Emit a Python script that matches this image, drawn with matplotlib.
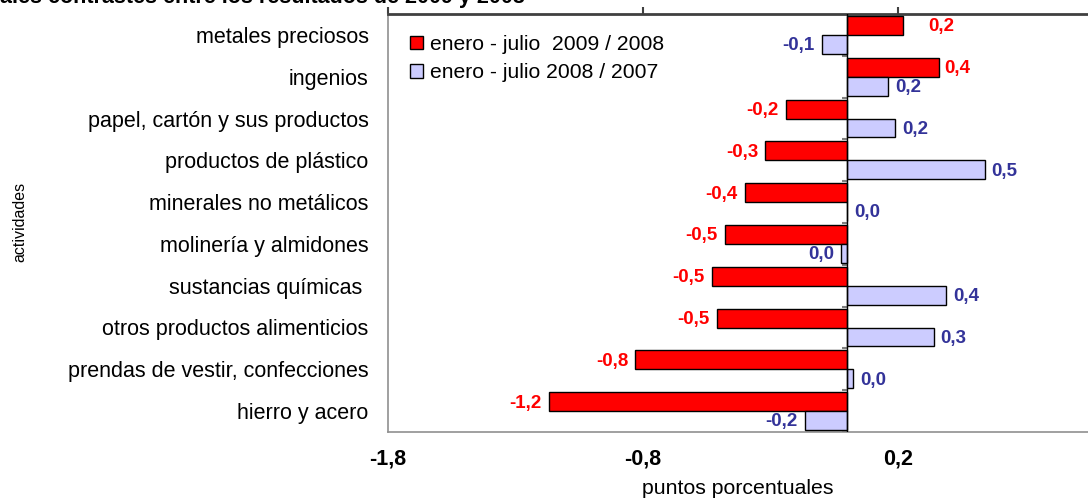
import matplotlib
matplotlib.use("Agg")
import matplotlib.pyplot as plt
from matplotlib.patches import Patch

plt.rcParams['font.family'] = ['Liberation Sans', 'DejaVu Sans']

categories = ["metales preciosos", "ingenios", "papel, cartón y sus productos",
              "productos de plástico", "minerales no metálicos", "molinería y almidones",
              "sustancias químicas ", "otros productos alimenticios",
              "prendas de vestir, confecciones", "hierro y acero"]
serie_2009 = [0.22, 0.36, -0.24, -0.32, -0.40, -0.48, -0.53, -0.51, -0.83, -1.17]
serie_2008 = [-0.10, 0.16, 0.19, 0.54, 0.0, -0.024, 0.39, 0.34, 0.024, -0.165]
legend_labels = ["enero - julio  2009 / 2008", "enero - julio 2008 / 2007"]
x_ticks = [-1.8, -0.8, 0.2]
title = "Principales contrastes entre los resultados de 2009 y 2008"

RED = "#FF0000"
BLUE = "#CCCCFF"
RED_TXT = "#FF0000"
BLUE_TXT = "#333399"

W, H = 1088, 499
fig = plt.figure(figsize=(W / 100, H / 100), dpi=100)
ax = fig.add_axes([388 / W, 1 - 432 / H, 1 - 388 / W, 418 / H])

n = len(categories)
ypos = list(range(n))
bh = 0.45
ax.barh([y - bh / 2 for y in ypos], serie_2009, height=bh, color=RED,
        edgecolor="black", linewidth=1, zorder=3)
ax.barh([y + bh / 2 for y in ypos], serie_2008, height=bh, color=BLUE,
        edgecolor="black", linewidth=1, zorder=3)

ax.set_xlim(-1.8, (W - 847) / 255)
ax.set_ylim(n - 0.5, -0.5)


def fmt(v):
    s = f"{v:.1f}".replace(".", ",")
    if s == "-0,0":
        s = "0,0"
    return s


red_pad = [25, 5, 7, 7, 7, 7, 7, 7, 7, 7]
for i, v in enumerate(serie_2009):
    off = red_pad[i] if v >= 0 else -red_pad[i]
    ax.annotate(fmt(v), (v, i - bh / 2), xytext=(off * 0.72, -1), textcoords="offset points",
                ha="left" if v >= 0 else "right", va="center", color=RED_TXT,
                fontsize=13.5, fontweight="bold", zorder=5)
for i, v in enumerate(serie_2008):
    off = 7 if v >= 0 else -7
    ax.annotate(fmt(v), (v, i + bh / 2), xytext=(off * 0.72, -1), textcoords="offset points",
                ha="left" if v >= 0 else "right", va="center", color=BLUE_TXT,
                fontsize=13.5, fontweight="bold", zorder=5)

# zero line and small category separators
ax.axvline(0, color="black", linewidth=1, zorder=4)
ax.hlines([k + 0.5 for k in range(-1, n)], -0.018, 0, color="#808080", linewidth=1.5, zorder=2)

ax.set_yticks(ypos)
ax.set_yticklabels(categories, fontsize=15.5)
ax.tick_params(axis="y", length=0, pad=14)

ax.set_xticks(x_ticks)
ax.set_xticklabels([fmt(t) for t in x_ticks], fontsize=15.5, fontweight="bold")
ax.tick_params(axis="x", top=True, bottom=False, labeltop=False, labelbottom=True,
               direction="out", length=5, width=1.5, color="#404040", pad=7)

for s in ["left", "bottom"]:
    ax.spines[s].set_color("#909090")
    ax.spines[s].set_linewidth(1.2)
ax.spines["top"].set_color("#404040")
ax.spines["top"].set_linewidth(2)
ax.spines["right"].set_visible(False)

ax.set_xlabel("puntos porcentuales", fontsize=15.3, labelpad=7)
fig.text(20 / W, 1 - 222 / H, "actividades", rotation=90, ha="center", va="center", fontsize=11.5)

handles = [Patch(facecolor=RED, edgecolor="black", linewidth=1),
           Patch(facecolor=BLUE, edgecolor="black", linewidth=1)]
ax.legend(handles, legend_labels, loc="upper left", bbox_to_anchor=(0.02, 0.97),
          frameon=False, fontsize=15.2, handlelength=0.6, handleheight=0.6,
          handletextpad=0.35, labelspacing=0.45, borderaxespad=0)

fig.text(525 / W, 1 - 3 / H, title, ha="right", va="baseline", fontsize=15.5, fontweight="bold")

fig.savefig("out.png", dpi=100)
